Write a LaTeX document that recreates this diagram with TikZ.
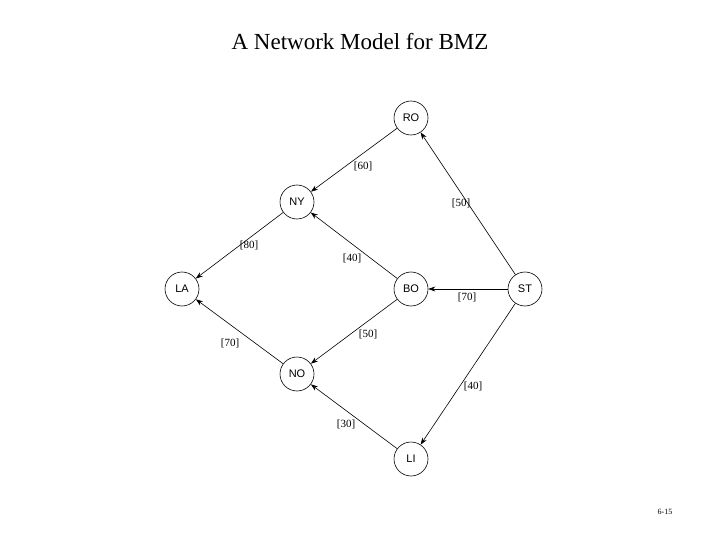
\documentclass[tikz,border=0pt]{standalone}
\usepackage{fontspec}
\setmainfont{Liberation Serif}
\newfontfamily\nodefont{Liberation Sans}
\usetikzlibrary{arrows.meta}
\begin{document}
\begin{tikzpicture}[x=1pt,y=-1pt,
  city/.style={circle,draw,line width=0.6pt,minimum size=34pt,inner sep=0pt,font=\nodefont\fontsize{11}{12}\selectfont},
  arc/.style={-{Stealth[length=7pt,width=5pt]},line width=0.6pt},
  lab/.style={font=\fontsize{11}{12}\selectfont}]
\useasboundingbox (0,0) rectangle (720,540);
\node[font=\fontsize{23}{26}\selectfont] (title) at (360,42) {A Network Model for BMZ};
\node[font=\fontsize{8}{9}\selectfont] (pg) at (665,512) {6-15};
\node[city] (RO) at (411,118) {RO};
\node[city] (NY) at (297,202) {NY};
\node[city] (LA) at (182,289) {LA};
\node[city] (BO) at (411,289) {BO};
\node[city] (ST) at (525,289) {ST};
\node[city] (NO) at (297,374) {NO};
\node[city] (LI) at (411,459) {LI};
\draw[arc] (RO) -- (NY);
\draw[arc] (ST) -- (RO);
\draw[arc] (NY) -- (LA);
\draw[arc] (BO) -- (NY);
\draw[arc] (ST) -- (BO);
\draw[arc] (NO) -- (LA);
\draw[arc] (BO) -- (NO);
\draw[arc] (ST) -- (LI);
\draw[arc] (LI) -- (NO);
\node[lab] (l1) at (363,166) {[60]};
\node[lab] (l2) at (461,203) {[50]};
\node[lab] (l3) at (249,245) {[80]};
\node[lab] (l4) at (352,258) {[40]};
\node[lab] (l5) at (467,297) {[70]};
\node[lab] (l6) at (230,343) {[70]};
\node[lab] (l7) at (368,334) {[50]};
\node[lab] (l8) at (473,386) {[40]};
\node[lab] (l9) at (346,424) {[30]};
\end{tikzpicture}
\end{document}
